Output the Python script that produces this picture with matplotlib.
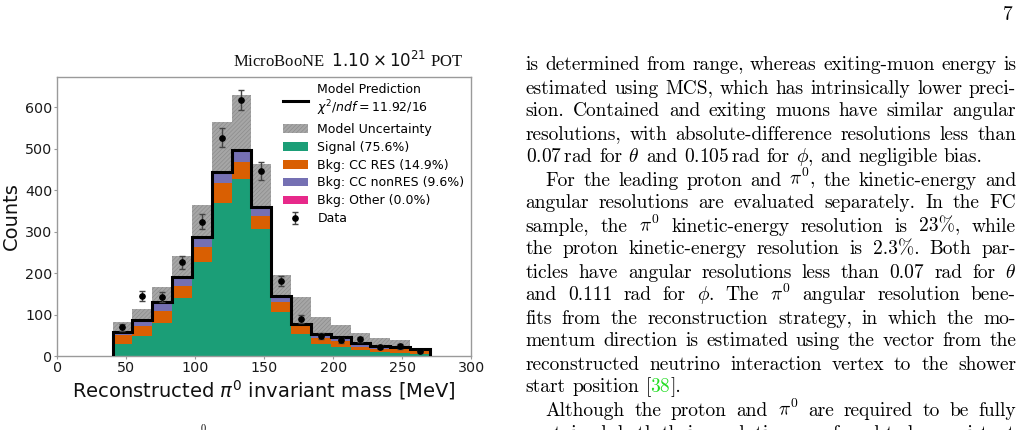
import matplotlib
matplotlib.use('Agg')
import matplotlib.pyplot as plt
from matplotlib.lines import Line2D
from matplotlib.patches import Patch
import numpy as np

# ---------------- data ----------------
bin_edges = [40, 54.375, 68.75, 83.125, 97.5, 111.875, 126.25, 140.625, 155,
             169.375, 183.75, 198.125, 212.5, 226.875, 241.25, 255.625, 270]
signal    = [29, 49, 80, 139, 227, 369, 426, 306, 107, 54, 28, 22, 14, 10, 8, 6]
cc_res    = [22, 23, 28, 31, 35, 49, 41, 33, 24, 18, 16, 13, 8, 8, 8, 6]
cc_nonres = [8, 14, 22, 21, 25, 27, 30, 21, 13, 6, 10, 11, 10, 7, 6, 5]
other     = [0, 0, 0, 0, 0, 0, 0, 0, 0, 0, 0, 0, 0, 0, 0, 0]
model_unc = [22, 28, 36, 51, 78, 120, 134, 104, 51, 64, 39, 29, 24, 19, 16, 2]
data      = [69, 145, 142, 226, 324, 527, 618, 446, 181, 89, 49, 38, 40, 22, 23, 11]
data_err  = [8, 12, 12, 15, 18, 23, 25, 21, 13, 9, 7, 6, 6, 5, 5, 3]

legend_labels = ["Model Prediction\n$\\chi^2/ndf = 11.92/16$", "Model Uncertainty",
                 "Signal (75.6%)", "Bkg: CC RES (14.9%)", "Bkg: CC nonRES (9.6%)",
                 "Bkg: Other (0.0%)", "Data"]
title_text = "MicroBooNE  $1.10\\times10^{21}$ POT"
xlabel_text = "Reconstructed $\\pi^0$ invariant mass [MeV]"
ylabel_text = "Counts"
xticks = [0, 50, 100, 150, 200, 250, 300]
yticks = [0, 100, 200, 300, 400, 500, 600]

page_number = "7"
body_lines = [
    (False, True,  "is determined from range, whereas exiting-muon energy is"),
    (False, True,  "estimated using MCS, which has intrinsically lower preci-"),
    (False, True,  "sion. Contained and exiting muons have similar angular"),
    (False, True,  "resolutions, with absolute-difference resolutions less than"),
    (False, False, "0.07$\\,$rad for $\\theta$ and 0.105$\\,$rad for $\\phi$, and negligible bias."),
    (True,  True,  "For the leading proton and $\\pi^0$, the kinetic-energy and"),
    (False, True,  "angular resolutions are evaluated separately. In the FC"),
    (False, True,  "sample, the $\\pi^0$ kinetic-energy resolution is 23%, while"),
    (False, True,  "the proton kinetic-energy resolution is 2.3%. Both par-"),
    (False, True,  "ticles have angular resolutions less than 0.07 rad for $\\theta$"),
    (False, True,  "and 0.111 rad for $\\phi$. The $\\pi^0$ angular resolution bene-"),
    (False, True,  "fits from the reconstruction strategy, in which the mo-"),
    (False, True,  "mentum direction is estimated using the vector from the"),
    (False, True,  "reconstructed neutrino interaction vertex to the shower"),
    (False, False, "start position [38]."),
    (True,  True,  "Although the proton and $\\pi^0$ are required to be fully"),
    (False, True,  "contained, both their resolutions are found to be consistent"),
]

# ---------------- figure ----------------
plt.rcParams['hatch.linewidth'] = 0.45
W, H = 1022, 430
fig = plt.figure(figsize=(W / 100, H / 100), dpi=100)


def fx(px):
    return px / W


def fy(py):
    return 1 - py / H


ax = fig.add_axes([fx(57.3), fy(356), (471.3 - 57.3) / W, (356 - 76.7) / H])

edges = np.array(bin_edges)
lefts = edges[:-1]
widths = np.diff(edges)
sig = np.array(signal, float)
res = np.array(cc_res, float)
nres = np.array(cc_nonres, float)
oth = np.array(other, float)
total = sig + res + nres + oth
unc = np.array(model_unc, float)
centers = lefts + widths / 2

c_sig, c_res, c_nres, c_oth = '#1b9e77', '#d95f02', '#7570b3', '#e7298a'
unc_face, unc_edge = '#a6a6a6', '#8a8a8a'
HATCH = '////////'

ax.bar(lefts, 2 * unc, bottom=total - unc, width=widths, align='edge',
       color=unc_face, edgecolor=unc_edge, hatch=HATCH, lw=0, zorder=1)
ax.bar(lefts, sig, width=widths, align='edge', color=c_sig, lw=0, zorder=2)
ax.bar(lefts, res, bottom=sig, width=widths, align='edge', color=c_res, lw=0, zorder=2)
ax.bar(lefts, nres, bottom=sig + res, width=widths, align='edge', color=c_nres, lw=0, zorder=2)
ax.bar(lefts, oth, bottom=sig + res + nres, width=widths, align='edge', color=c_oth, lw=0, zorder=2)
ax.stairs(total, edges, baseline=0, color='black', lw=2.2, zorder=3)
eb = ax.errorbar(centers, data, yerr=data_err, fmt='o', color='black', ms=3.8,
                 ecolor='#444444', elinewidth=1.0, capsize=2.2, capthick=1.0, zorder=4)

ax.set_xlim(0, 300)
ax.set_ylim(0, 674)
ax.set_xticks(xticks)
ax.set_yticks(yticks)
ax.tick_params(labelsize=10.3, length=2, pad=1.5, colors='#999999', labelcolor='#1a1a1a')
for s in ax.spines.values():
    s.set_color('#9a9a9a')
    s.set_linewidth(1.0)
ax.set_xlabel(xlabel_text, fontsize=14, color='#111111', labelpad=2)
ax.set_ylabel(ylabel_text, fontsize=14, color='#111111', labelpad=3)

handles = [Line2D([], [], color='black', lw=2.2),
           Patch(facecolor=unc_face, edgecolor=unc_edge, hatch=HATCH, lw=0),
           Patch(facecolor=c_sig, lw=0), Patch(facecolor=c_res, lw=0),
           Patch(facecolor=c_nres, lw=0), Patch(facecolor=c_oth, lw=0), eb]
ax.legend(handles, legend_labels, loc='upper left', bbox_to_anchor=(0.545, 0.979),
          frameon=False, fontsize=9.0, borderpad=0, borderaxespad=0,
          handlelength=2.0, handletextpad=0.75, labelspacing=0.39)

fig.text(fx(463), fy(67), title_text, ha='right', va='baseline', fontsize=12,
         family='Liberation Serif', math_fontfamily='dejavusans', color='#111111')

# caption fragment at the bottom
fig.text(fx(200.5), fy(424), "0", ha='left', va='top', fontsize=7.5,
         family='cmr10', color='black')

# ---------------- right-hand column text ----------------
renderer = fig.canvas.get_renderer()
BODY = dict(family='cmr10', math_fontfamily='cm', fontsize=14.0)
left_px, right_px, indent_px = 525.5, 1016.0, 545.5
base0, lead = 70.5, 23.0
space_px = 0.333 * 14.0 * 100 / 72
green = '#22dd22'

fig.text(fx(1013), fy(20), page_number, ha='right', va='baseline', **BODY)


def pieces_for(word):
    if word.startswith('[38]'):
        return [('[', 'black'), ('38', green), (word[3:], 'black')]
    return [(word, 'black')]


for i, (indent, justify, line) in enumerate(body_lines):
    y = base0 + i * lead
    x0 = indent_px if indent else left_px
    words = line.split(' ')
    objs, wws = [], []
    for w in words:
        wobjs, wt = [], 0.0
        for s, c in pieces_for(w):
            t = fig.text(0, fy(y), s, color=c, ha='left', va='baseline', **BODY)
            pw = t.get_window_extent(renderer).width
            wobjs.append((t, pw))
            wt += pw
        objs.append(wobjs)
        wws.append(wt)
    if justify and len(words) > 1:
        gap = (right_px - x0 - sum(wws)) / (len(words) - 1)
    else:
        gap = space_px
    x = x0
    for wobjs, wt in zip(objs, wws):
        xx = x
        for t, pw in wobjs:
            t.set_x(fx(xx))
            xx += pw
        x += wt + gap

fig.savefig('out.png', dpi=100)
